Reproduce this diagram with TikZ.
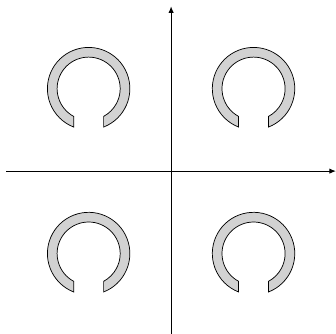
\documentclass[tikz,border=0pt]{standalone}
\usetikzlibrary{arrows.meta}
\tikzset{
  axis/.style={line width=0.8pt, -{Latex[length=1.6mm,width=1.3mm]}},
  ring/.style={draw=black, fill=gray!35, line width=0.5pt}
}
\begin{document}
\begin{tikzpicture}
\useasboundingbox (-4.15,-3.95) rectangle (4.0,4.15);

% axes
\coordinate (xl) at (-4,0);
\coordinate (xr) at (4,0);
\coordinate (yb) at (0,-4);
\coordinate (yt) at (0,4);
\draw[axis] (xl) -- (xr);
\draw[axis] (yb) -- (yt);

% rings, open at the bottom
\foreach \cx/\cy in {-2/2, 2/2, -2/-2, 2/-2}
  \draw[ring, shift={(\cx,\cy)}]
    (-68.7:1) arc[start angle=-68.7, end angle=248.7, radius=1]
    -- (241.6:0.765) arc[start angle=241.6, end angle=-61.6, radius=0.765]
    -- cycle;

\end{tikzpicture}
\end{document}
